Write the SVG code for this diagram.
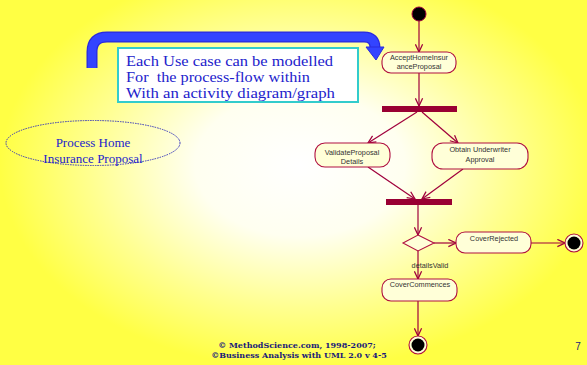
<svg xmlns="http://www.w3.org/2000/svg" width="587" height="365" viewBox="0 0 587 365">
<defs>
<radialGradient id="bg" gradientUnits="userSpaceOnUse" cx="300" cy="165" r="300" gradientTransform="translate(300 165) scale(1 0.68) translate(-300 -165)">
<stop offset="0" stop-color="#FFFFFF"/>
<stop offset="0.35" stop-color="#FFFFF0"/>
<stop offset="0.7" stop-color="#FFFF90"/>
<stop offset="1" stop-color="#FFFF44"/>
</radialGradient>
<marker id="arr" viewBox="0 0 10 10" refX="9.5" refY="5" markerWidth="9" markerHeight="9" markerUnits="userSpaceOnUse" orient="auto">
<path d="M1,1 L9.5,5 L1,9" fill="none" stroke="#A0003C" stroke-width="1.4"/>
</marker>
<style>
.n{fill:#FFFFD8;stroke:#B01040;stroke-width:1.1}
.t{font-family:"Liberation Sans",Arial,sans-serif;font-size:7.3px;fill:#333333;text-anchor:middle}
.c{fill:none;stroke:#A0003C;stroke-width:1.2;marker-end:url(#arr)}
.bar{fill:#990033}
.bl{font-family:"Liberation Serif","Times New Roman",serif;fill:#2222CC}
.bw{font-family:"Liberation Serif","Times New Roman",serif;fill:#2222CC;font-size:14px}
.ft{font-family:"DejaVu Serif",serif;font-size:8px;font-weight:bold;fill:#1A1A7A;text-anchor:middle}
</style>
</defs>
<rect x="0" y="0" width="587" height="365" fill="url(#bg)"/>

<g id="callout-arrow">
<path d="M92,68 V52 Q92,37 107,37 H364 Q375,37 375,48" fill="none" stroke="#2A2ADD" stroke-width="11"/>
<path d="M92,68 V52 Q92,37 107,37 H364 Q375,37 375,48" fill="none" stroke="#3344FF" stroke-width="8.5"/>
<polygon points="366,47 384,47 376,60" fill="#3344FF" stroke="#2A2ADD" stroke-width="1"/>
</g>

<g id="note">
<rect x="118" y="48" width="240" height="54" fill="#FFFFFF" stroke="#33CCCC" stroke-width="2"/>
<text class="bw" x="126" y="66" textLength="207" lengthAdjust="spacingAndGlyphs">Each Use case can be modelled</text>
<text class="bw" x="126" y="82" textLength="184" lengthAdjust="spacingAndGlyphs" xml:space="preserve">For  the process-flow within</text>
<text class="bw" x="126" y="98" textLength="209" lengthAdjust="spacingAndGlyphs">With an activity diagram/graph</text>
</g>

<g id="usecase">
<ellipse cx="93" cy="143" rx="87" ry="22.5" fill="none" stroke="#3333BB" stroke-width="1" stroke-dasharray="1.5,1"/>
<text class="bl" font-size="13" x="93" y="147" text-anchor="middle">Process Home</text>
<text class="bl" font-size="13" x="93" y="163" text-anchor="middle">Insurance Proposal</text>
</g>

<g id="connectors">
<line class="c" x1="419" y1="21" x2="419" y2="52"/>
<line class="c" x1="419" y1="73" x2="419" y2="106"/>
<line class="c" x1="417" y1="112" x2="368" y2="143"/>
<line class="c" x1="422" y1="112" x2="458" y2="143"/>
<line class="c" x1="368" y1="167" x2="415" y2="199"/>
<line class="c" x1="463" y1="169" x2="422" y2="199"/>
<line class="c" x1="418" y1="205" x2="418" y2="235"/>
<line class="c" x1="434" y1="243" x2="456" y2="243"/>
<line class="c" x1="531" y1="243" x2="565" y2="243"/>
<line class="c" x1="418" y1="251" x2="418" y2="279"/>
<line class="c" x1="418" y1="301" x2="418" y2="336"/>
<text class="t" x="430" y="268">detailsValid</text>
</g>

<g id="start">
<circle cx="419" cy="14" r="7" fill="#000000" stroke="#A0003C" stroke-width="1"/>
</g>

<g id="accept">
<rect class="n" x="382" y="52" width="74" height="21" rx="9"/>
<text class="t" x="419" y="60">AcceptHomeInsur</text>
<text class="t" x="419" y="68.5">anceProposal</text>
</g>

<g id="fork">
<rect class="bar" x="382" y="106" width="75" height="6"/>
</g>

<g id="validate">
<rect class="n" x="315" y="143" width="75" height="24" rx="10"/>
<text class="t" x="352" y="155">ValidateProposal</text>
<text class="t" x="352" y="164">Details</text>
</g>

<g id="obtain">
<rect class="n" x="432" y="143" width="96" height="26" rx="11"/>
<text class="t" x="480" y="152">Obtain Underwriter</text>
<text class="t" x="480" y="161.5">Approval</text>
</g>

<g id="join">
<rect class="bar" x="386" y="199" width="66" height="6"/>
</g>

<g id="decision">
<polygon points="418,235 434,243 418,251 403,243" fill="#FFFFD8" stroke="#B01040" stroke-width="1.1"/>
</g>

<g id="rejected">
<rect class="n" x="456" y="232" width="75" height="21" rx="9"/>
<text class="t" x="494" y="241">CoverRejected</text>
</g>

<g id="end1">
<circle cx="574" cy="243" r="9" fill="#FFFFD8" stroke="#B01040" stroke-width="1.1"/>
<circle cx="574" cy="243" r="6.5" fill="#000000"/>
</g>

<g id="commences">
<rect class="n" x="382" y="279" width="75" height="22" rx="9"/>
<text class="t" x="420" y="287">CoverCommences</text>
</g>

<g id="end2">
<circle cx="418" cy="345" r="9" fill="#FFFFD8" stroke="#B01040" stroke-width="1.1"/>
<circle cx="418" cy="345" r="6.5" fill="#000000"/>
</g>

<g id="footer">
<text class="ft" x="297" y="348">© MethodScience.com, 1998-2007;</text>
<text class="ft" x="299" y="358">©Business Analysis with UML 2.0 v 4-5</text>
<text x="578" y="350" font-family="Liberation Sans,Arial,sans-serif" font-size="10" fill="#1A1A7A" text-anchor="middle">7</text>
</g>
</svg>
